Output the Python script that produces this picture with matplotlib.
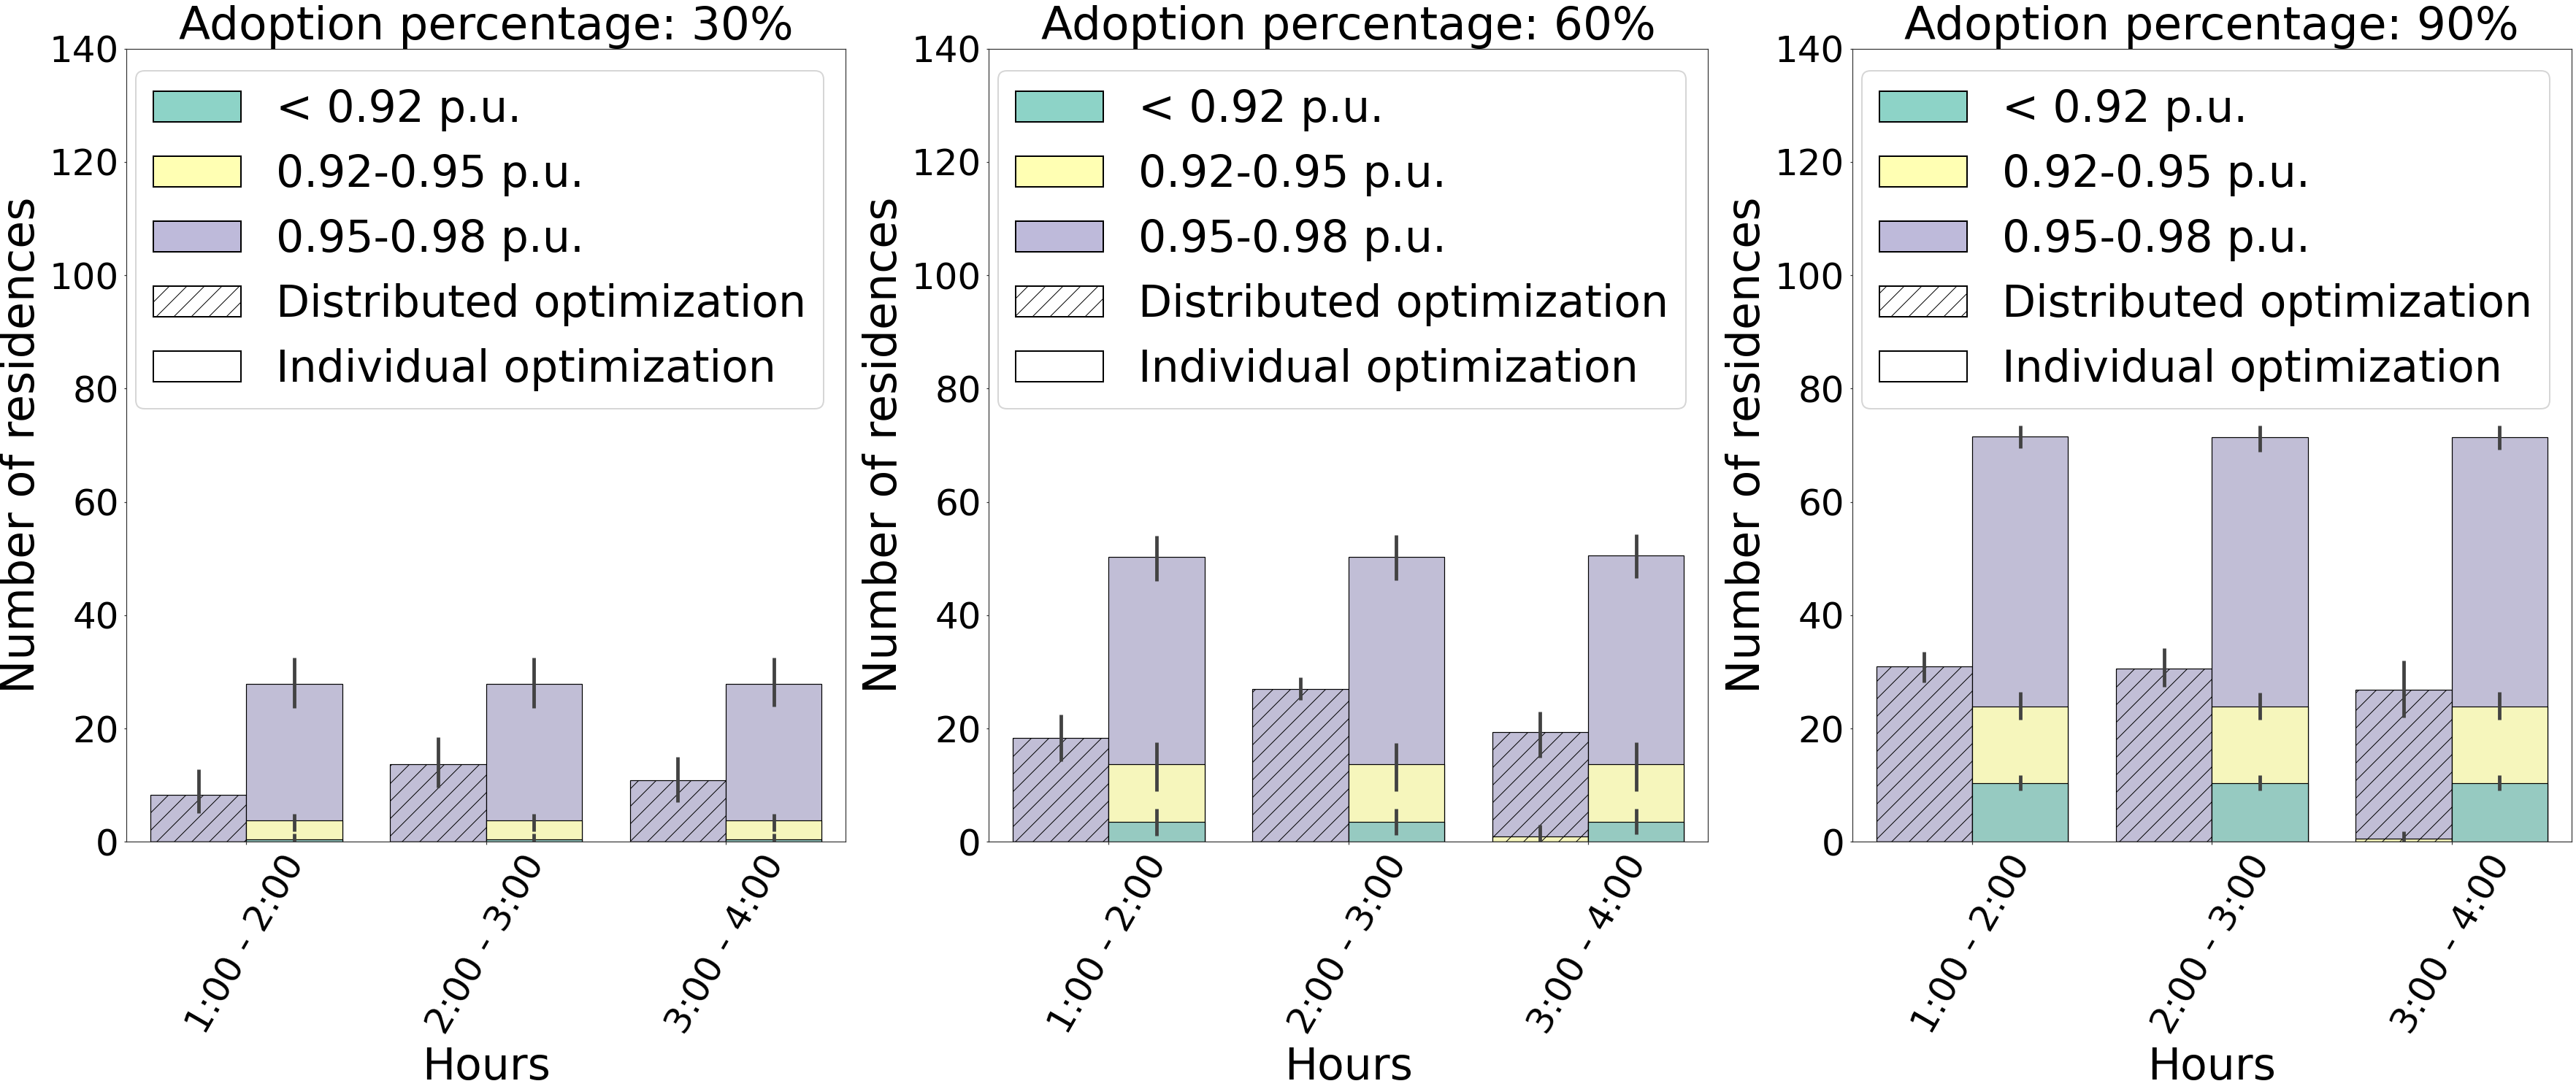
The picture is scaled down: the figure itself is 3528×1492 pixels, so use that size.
import matplotlib
matplotlib.use("Agg")
import matplotlib.pyplot as plt
from matplotlib.patches import Patch
import colorsys

# ---------------- data ----------------
hours = ["1:00 - 2:00", "2:00 - 3:00", "3:00 - 4:00"]
adoptions = ["30%", "60%", "90%"]
levels = ["< 0.92 p.u.", "0.92-0.95 p.u.", "0.95-0.98 p.u."]
level_colors = ["#8dd3c7", "#ffffb3", "#bebada"]
methods = ["Distributed optimization", "Individual optimization"]

# cumulative counts (bar heights) per adoption panel, per hour
# Distributed optimization
dist_lt092 = [[0.0, 0.0, 0.0], [0.0, 0.0, 0.0], [0.0, 0.0, 0.0]]
dist_lt095 = [[0.0, 0.0, 0.0], [0.0, 0.0, 0.97], [0.0, 0.0, 0.5]]
dist_lt098 = [[8.3, 13.7, 10.8], [18.3, 27.0, 19.4], [31.0, 30.6, 26.8]]
dist_lt092_lo = [[0.0, 0.0, 0.0], [0.0, 0.0, 0.0], [0.0, 0.0, 0.0]]
dist_lt092_hi = [[0.0, 0.0, 0.0], [0.0, 0.0, 0.0], [0.0, 0.0, 0.0]]
dist_lt095_lo = [[0.0, 0.0, 0.0], [0.0, 0.0, 0.0], [0.0, 0.0, 0.0]]
dist_lt095_hi = [[0.0, 0.0, 0.0], [0.0, 0.0, 3.0], [0.0, 0.0, 1.9]]
dist_lt098_lo = [[5.0, 9.6, 7.0], [14.2, 25.0, 14.8], [28.1, 27.3, 21.9]]
dist_lt098_hi = [[12.8, 18.4, 15.0], [22.5, 29.0, 23.0], [33.5, 34.2, 32.0]]

# Individual optimization
ind_lt092 = [[0.46, 0.46, 0.46], [3.5, 3.5, 3.5], [10.4, 10.4, 10.4]]
ind_lt095 = [[3.8, 3.8, 3.8], [13.7, 13.7, 13.7], [23.9, 23.9, 23.9]]
ind_lt098 = [[27.9, 27.9, 27.9], [50.3, 50.3, 50.5], [71.5, 71.4, 71.4]]
ind_lt092_lo = [[0.0, 0.0, 0.0], [1.1, 1.2, 1.3], [9.1, 9.1, 9.1]]
ind_lt092_hi = [[1.4, 1.4, 1.4], [5.8, 5.8, 5.8], [11.7, 11.7, 11.7]]
ind_lt095_lo = [[1.9, 1.9, 1.9], [8.9, 8.9, 8.9], [21.5, 21.6, 21.6]]
ind_lt095_hi = [[4.95, 4.95, 4.95], [17.6, 17.4, 17.6], [26.4, 26.3, 26.4]]
ind_lt098_lo = [[23.6, 23.6, 23.9], [46.0, 46.2, 46.5], [69.5, 68.9, 69.2]]
ind_lt098_hi = [[32.5, 32.5, 32.5], [54.0, 54.2, 54.3], [73.5, 73.5, 73.5]]


def desaturate(hexcol, prop=0.75):
    r, g, b = matplotlib.colors.to_rgb(hexcol)
    h, l, s = colorsys.rgb_to_hls(r, g, b)
    return colorsys.hls_to_rgb(h, l, s * prop)


plt.rcParams["font.family"] = ["DejaVu Sans"]
plt.rcParams["hatch.linewidth"] = 0.5

W, H, DPI = 3528, 1492, 144
fig = plt.figure(figsize=(W / DPI, H / DPI), dpi=DPI)

ax_lefts = [173.3, 1354.3, 2536.7]
ax_w = 985.0
ax_top, ax_bot = 66.7, 1153.3

err_color = "#424242"
bar_w = 0.4
x = list(range(len(hours)))

for p, adop in enumerate(adoptions):
    ax = fig.add_axes([ax_lefts[p] / W, 1 - ax_bot / H, ax_w / W, (ax_bot - ax_top) / H])
    groups = [
        (-bar_w / 2, "//", [dist_lt098, dist_lt095, dist_lt092],
         [(dist_lt098_lo, dist_lt098_hi), (dist_lt095_lo, dist_lt095_hi), (dist_lt092_lo, dist_lt092_hi)]),
        (bar_w / 2, None, [ind_lt098, ind_lt095, ind_lt092],
         [(ind_lt098_lo, ind_lt098_hi), (ind_lt095_lo, ind_lt095_hi), (ind_lt092_lo, ind_lt092_hi)]),
    ]
    layer_cols = [level_colors[2], level_colors[1], level_colors[0]]
    for off, hatch, layers, errs in groups:
        xs = [xi + off for xi in x]
        for li, vals in enumerate(layers):
            ax.bar(xs, vals[p], width=bar_w, color=desaturate(layer_cols[li]),
                   edgecolor="black", linewidth=0.6, hatch=hatch, zorder=1)
        for li, (lo, hi) in enumerate(errs):
            for xi, a, b in zip(xs, lo[p], hi[p]):
                if b > a:
                    ax.plot([xi, xi], [a, b], color=err_color, linewidth=2.4,
                            solid_capstyle="butt", zorder=3)
    ax.set_xlim(-0.5, len(hours) - 0.5)
    ax.set_ylim(0, 140)
    ax.set_yticks(range(0, 141, 20))
    ax.set_xticks(x)
    ax.set_xticklabels(hours, rotation=60, ha="center")
    ax.tick_params(axis="both", labelsize=25, length=1.75, width=0.6, color="#333333")
    for sp in ax.spines.values():
        sp.set_color("#333333")
        sp.set_linewidth(0.6)
    ax.set_title(f"Adoption percentage: {adop}", fontsize=31.5)
    ax.set_xlabel("Hours", fontsize=30)
    ax.set_ylabel("Number of residences", fontsize=31)

    handles = [Patch(facecolor=c, edgecolor="black", label=l) for c, l in zip(level_colors, levels)]
    handles.append(Patch(facecolor="white", edgecolor="black", hatch="//", label=methods[0]))
    handles.append(Patch(facecolor="white", edgecolor="black", label=methods[1]))
    ax.legend(handles=handles, loc="upper right", fontsize=30)

fig.savefig("out.png", dpi=DPI)
